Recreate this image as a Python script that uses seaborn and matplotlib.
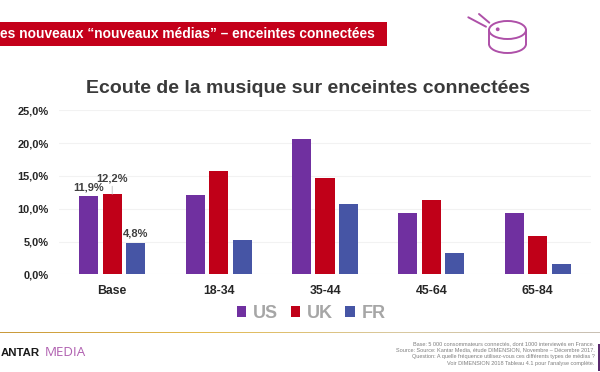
import matplotlib
matplotlib.use("Agg")
import matplotlib.pyplot as plt
from matplotlib.lines import Line2D
from matplotlib.patches import Rectangle, Ellipse, Arc, Circle
import numpy as np
import pandas as pd
import seaborn as sns

categories = ["Base", "18-34", "35-44", "45-64", "65-84"]
us = [11.9, 12.1, 20.7, 9.4, 9.4]
uk = [12.2, 15.7, 14.7, 11.3, 5.8]
fr = [4.8, 5.2, 10.7, 3.3, 1.6]
series_names = ["US", "UK", "FR"]
colors = ["#7030A0", "#C00018", "#4655A5"]
yticks = [0, 5, 10, 15, 20, 25]
base_labels = ["11,9%", "12,2%", "4,8%"]

title = "Ecoute de la musique sur enceintes connectées"
banner = "es nouveaux “nouveaux médias” – enceintes connectées"
footnotes = [
    "Base: 5 000 consommateurs connectés, dont 1000 interviewés en France.",
    "Source: Source: Kantar Media, étude DIMENSION, Novembre – Décembre 2017.",
    "Question: A quelle fréquence utilisez-vous ces différents types de médias ?",
    "Voir DIMENSION 2018 Tableau 4.1 pour l'analyse complète.",
]

sns.set_theme(style="white")
plt.rcParams["font.family"] = ["Liberation Sans", "DejaVu Sans"]

W, H = 600, 372
fig = plt.figure(figsize=(W / 100, H / 100), dpi=100, facecolor="white")


def fx(x):
    return x / W


def fy(y):
    return 1 - y / H


ax = fig.add_axes([fx(59), fy(274.3), fx(591 - 59), (274.3 - 110.3) / H])
df = pd.DataFrame({
    "cat": categories * 3,
    "serie": sum([[s] * len(categories) for s in series_names], []),
    "val": us + uk + fr,
})
sns.barplot(data=df, x="cat", y="val", hue="serie", hue_order=series_names,
            palette=colors, width=0.663, gap=0.19, saturation=1, linewidth=0,
            errorbar=None, ax=ax, zorder=3)
ax.set_xlim(-0.5, 4.5)
ax.set_ylim(0, 25)
ax.set_yticks(yticks)
ax.set_yticklabels([f"{v:.1f}".replace(".", ",") + "%" for v in yticks],
                   fontsize=7.9, fontweight="bold", color="#262626")
ax.set_xticks(range(len(categories)))
ax.set_xticklabels(categories, fontsize=8.8, fontweight="bold", color="#262626")
ax.tick_params(axis="both", length=0)
ax.tick_params(axis="y", pad=7.5)
ax.tick_params(axis="x", pad=7.5)
ax.set_xlabel("")
ax.set_ylabel("")
for s in ax.spines.values():
    s.set_visible(False)
ax.grid(axis="y", color="#F2F2F2", lw=0.8, zorder=0)
ax.grid(axis="x", visible=False)
ax.set_axisbelow(True)

# Data labels on the first group only
offsets = [8.3, 15.3, 9.0]
bars_first = [c.patches[0] for c in ax.containers]
for bar, lab, off in zip(bars_first, base_labels, offsets):
    ax.annotate(lab, (bar.get_x() + bar.get_width() / 2, bar.get_height()),
                xytext=(0, off * 0.72), textcoords="offset points",
                ha="center", va="center", fontsize=8.0, fontweight="bold",
                color="#404040", zorder=5)
b = bars_first[1]
ax.annotate("", (b.get_x() + b.get_width() / 2, b.get_height()),
            xytext=(0, 8 * 0.72), textcoords="offset points",
            arrowprops=dict(arrowstyle="-", color="#BFBFBF", lw=0.6,
                            shrinkA=0, shrinkB=0), zorder=4)

# Legend
handles = [c.patches[0] for c in ax.containers]
if ax.get_legend():
    ax.get_legend().remove()
fig.legend(handles, series_names, loc="center", bbox_to_anchor=(fx(311), fy(313)),
           ncol=3, frameon=False, handlelength=0.55, handleheight=0.55,
           handletextpad=0.33, columnspacing=0.72, borderpad=0, borderaxespad=0,
           prop=dict(family="Liberation Sans", weight="bold", size=13),
           labelcolor="#A6A6A6")

# Title
fig.text(fx(307.5), fy(88.5), title, ha="center", va="center", fontsize=14.0,
         fontweight="bold", color="#3A3A3A")

# Banner
fig.add_artist(Rectangle((0, fy(45.5)), fx(386.5), 23.5 / H, transform=fig.transFigure,
                         facecolor="#C4001A", edgecolor="none"))
fig.text(fx(374.5), fy(34), banner, ha="right", va="center", fontsize=9.95,
         fontweight="bold", color="white")

# Drum icon
pc = "#AE50A8"
lw = 1.4
to_px = matplotlib.transforms.Affine2D().scale(1, -1).translate(0, H)
tr = to_px + matplotlib.transforms.Affine2D().scale(1 / W, 1 / H) + fig.transFigure
fig.add_artist(Ellipse((507.5, 30), 37, 18, transform=tr, fill=False, ec=pc, lw=lw))
fig.add_artist(Arc((507.5, 44), 37, 18, theta1=0, theta2=180, transform=tr, ec=pc, lw=lw))
fig.add_artist(Circle((497.7, 29.3), 1.9, transform=tr, fc=pc, ec="none"))
for xs, ys in [((489, 489), (30, 44)), ((526, 526), (30, 44)),
               ((468.3, 486), (17.3, 26.7)), ((479, 489.3), (14, 22.7))]:
    fig.add_artist(Line2D(xs, ys, transform=tr, color=pc, lw=lw))

# Footer
grad = np.linspace(0, 1, 300)[None, :]
lax = fig.add_axes([0, fy(333), 1, 1.5 / H])
lax.axis("off")
cm = matplotlib.colors.LinearSegmentedColormap.from_list("g", ["#C99A3C", "#E3B94E", "#D9C9A0", "#C9C0B4"])
lax.imshow(grad, aspect="auto", cmap=cm)

fig.text(fx(1), fy(353), "ANTAR", ha="left", va="center", fontsize=8.2,
         fontweight="bold", color="#1A1A1A")
fig.text(fx(45), fy(353), "MEDIA", ha="left", va="center", fontsize=9.6,
         color="#B060B0", family="Open Sans")
for yy, line in zip([343.3, 350, 356.7, 363.3], footnotes):
    fig.text(fx(594.5), fy(yy), line, ha="right", va="center", fontsize=3.95, color="#7F7F7F")
fig.add_artist(Rectangle((fx(597.5), fy(371)), fx(2.5), 27 / H, transform=fig.transFigure,
                         facecolor="#5A2A6E", edgecolor="none"))

fig.savefig("out.png", dpi=100, facecolor="white")
